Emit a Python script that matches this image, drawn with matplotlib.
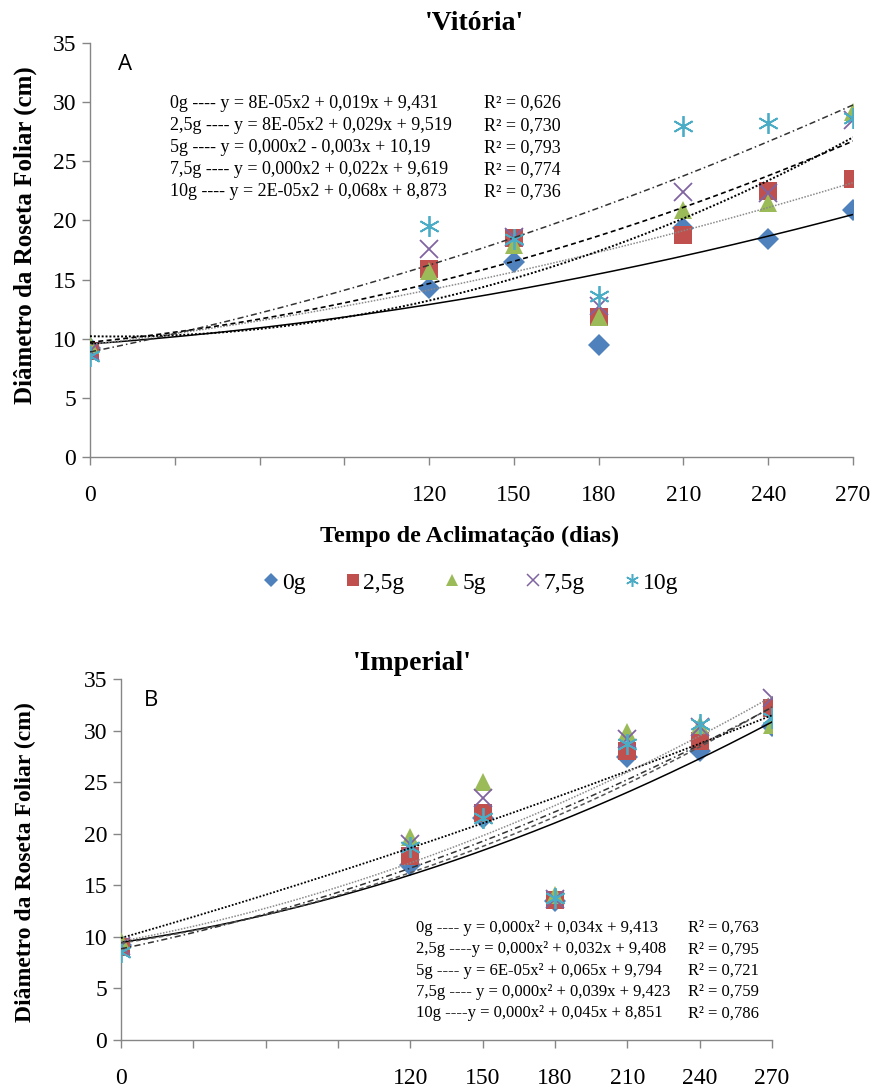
import numpy as np
import matplotlib
matplotlib.use("Agg")
import matplotlib.pyplot as plt
from matplotlib.lines import Line2D

# ---------------- data ----------------
days = [0, 120, 150, 180, 210, 240, 270]
tick_pos = [0, 30, 60, 90, 120, 150, 180, 210, 240, 270]
tick_lbl = ["0", "", "", "", "120", "150", "180", "210", "240", "270"]
series = ["0g", "2,5g", "5g", "7,5g", "10g"]

vit_0 = [9.2, 14.3, 16.5, 9.5, 19.4, 18.4, 20.9]
vit_25 = [9.0, 15.9, 18.5, 11.8, 18.8, 22.5, 23.5]
vit_5 = [9.5, 15.7, 17.9, 11.8, 20.9, 21.5, 29.2]
vit_75 = [9.0, 17.6, 18.6, 12.8, 22.4, 22.3, 28.5]
vit_10 = [8.5, 19.5, 18.4, 13.6, 28.0, 28.2, 28.7]

imp_0 = [9.2, 17.0, 21.5, 13.5, 27.4, 28.0, 30.4]
imp_25 = [9.0, 17.8, 22.0, 13.6, 28.0, 29.0, 32.2]
imp_5 = [9.6, 19.7, 25.0, 14.1, 29.9, 30.5, 30.5]
imp_75 = [9.1, 19.0, 23.5, 13.7, 29.2, 30.3, 33.2]
imp_10 = [8.5, 18.7, 21.5, 13.8, 28.7, 30.6, 31.2]

eq_vit = ["0g ---- y = 8E-05x2 + 0,019x + 9,431",
          "2,5g ---- y = 8E-05x2 + 0,029x + 9,519",
          "5g ---- y = 0,000x2 - 0,003x + 10,19",
          "7,5g ---- y = 0,000x2 + 0,022x + 9,619",
          "10g ---- y = 2E-05x2 + 0,068x + 8,873"]
r2_vit = ["R² = 0,626", "R² = 0,730", "R² = 0,793", "R² = 0,774", "R² = 0,736"]
eq_imp = ["0g ---- y = 0,000x² + 0,034x + 9,413",
          "2,5g ----y = 0,000x² + 0,032x + 9,408",
          "5g ---- y = 6E-05x² + 0,065x + 9,794",
          "7,5g ---- y = 0,000x² + 0,039x + 9,423",
          "10g ----y = 0,000x² + 0,045x + 8,851"]
r2_imp = ["R² = 0,763", "R² = 0,795", "R² = 0,721", "R² = 0,759", "R² = 0,786"]

# ---------------- style ----------------
SERIF = ["Liberation Serif", "DejaVu Serif"]
plt.rcParams["font.family"] = SERIF
colors = ["#4F81BD", "#C0504D", "#9BBB59", "#8064A2", "#4BACC6"]
markers = ["D", "s", "^", "x", (6, 2, 0)]
msizes = [11, 13, 13, 13, 15]
trend_vit = [dict(ls="-", color="black", lw=1.1),
             dict(ls=(0, (1, 1)), color="#8a8a8a", lw=1.1),
             dict(ls=(0, (1, 1)), color="black", lw=1.4),
             dict(ls=(0, (3, 2)), color="black", lw=1.2),
             dict(ls=(0, (4, 2, 1, 2)), color="#333333", lw=1.1)]
trend_imp = [dict(ls="-", color="black", lw=1.1),
             dict(ls=(0, (3, 2)), color="#555555", lw=1.1),
             dict(ls=(0, (1, 1)), color="black", lw=1.3),
             dict(ls=(0, (1, 1)), color="#8a8a8a", lw=1.1),
             dict(ls=(0, (4, 2, 1, 2)), color="#333333", lw=1.1)]

W, H = 872, 1090
fig = plt.figure(figsize=(W / 100, H / 100), dpi=100)


def fx(px):
    return px / W


def fy(py):
    return 1 - py / H


def is_line_marker(mk):
    return mk == "x" or isinstance(mk, tuple)


def make_axes(l, r, t, b):
    ax = fig.add_axes([fx(l), fy(b), fx(r) - fx(l), fy(t) - fy(b)])
    for s in ["top", "right"]:
        ax.spines[s].set_visible(False)
    for s in ["left", "bottom"]:
        ax.spines[s].set_color("#868686")
        ax.spines[s].set_linewidth(1.0)
    ax.set_xlim(0, 270)
    ax.set_ylim(0, 35)
    ax.set_xticks(tick_pos)
    ax.set_xticklabels(tick_lbl)
    ax.set_yticks(range(0, 36, 5))
    ax.tick_params(axis="both", direction="out", length=6, color="#868686",
                   labelsize=17, width=1.0)
    ax.tick_params(axis="x", pad=14)
    ax.tick_params(axis="y", pad=4)
    return ax


def draw(ax, data, tstyles):
    xs = np.array(days, dtype=float)
    xf = np.linspace(0, 270, 200)
    for i, vals in enumerate(data):
        mk = markers[i]
        ax.plot(days, vals, color=colors[i], markersize=msizes[i],
                linestyle="none", marker=mk, zorder=3 + i,
                markeredgewidth=(1.3 if is_line_marker(mk) else 0))
    for i, vals in enumerate(data):
        c = np.polyfit(xs, np.array(vals), 2)
        ax.plot(xf, np.polyval(c, xf), zorder=10, **tstyles[i])


# ---- top panel ----
ax1 = make_axes(90, 853, 43, 457)
draw(ax1, [vit_0, vit_25, vit_5, vit_75, vit_10], trend_vit)
fig.text(fx(475), fy(24), "'Vitória'", ha="center", va="center",
         fontsize=20, fontweight="bold")
fig.text(fx(25), fy(235), "Diâmetro da Roseta Foliar (cm)", rotation=90,
         ha="center", va="center", fontsize=18, fontweight="bold")
fig.text(fx(470), fy(536), "Tempo de Aclimatação (dias)", ha="center",
         va="center", fontsize=17.5, fontweight="bold")
fig.text(fx(118), fy(64), "A", ha="left", va="center", fontsize=16,
         family=["Open Sans", "DejaVu Sans"])
for k in range(5):
    yy = 103 + k * 22.2
    fig.text(fx(170), fy(yy), eq_vit[k], ha="left", va="center", fontsize=13)
    fig.text(fx(484), fy(yy), r2_vit[k], ha="left", va="center", fontsize=13)

handles = [Line2D([], [], marker=markers[i], color=colors[i], linestyle="none",
                  markersize=msizes[i] * 0.62,
                  markeredgewidth=(1.1 if is_line_marker(markers[i]) else 0))
           for i in range(5)]
fig.legend(handles, series, loc="center", bbox_to_anchor=(fx(470), fy(583)),
           ncol=5, frameon=False, fontsize=17, handletextpad=0.05,
           columnspacing=1.6, handlelength=0.8)

# ---- bottom panel ----
ax2 = make_axes(121, 772, 679, 1040)
draw(ax2, [imp_0, imp_25, imp_5, imp_75, imp_10], trend_imp)
fig.text(fx(412), fy(664), "'Imperial'", ha="center", va="center",
         fontsize=20, fontweight="bold")
fig.text(fx(25), fy(862), "Diâmetro da Roseta Foliar (cm)", rotation=90,
         ha="center", va="center", fontsize=17, fontweight="bold")
fig.text(fx(144), fy(701), "B", ha="left", va="center", fontsize=16,
         family=["Open Sans", "DejaVu Sans"])
for k in range(5):
    yy = 928 + k * 21.3
    fig.text(fx(416), fy(yy), eq_imp[k], ha="left", va="center", fontsize=12)
    fig.text(fx(688), fy(yy), r2_imp[k], ha="left", va="center", fontsize=12)

fig.savefig("out.png", dpi=100)
